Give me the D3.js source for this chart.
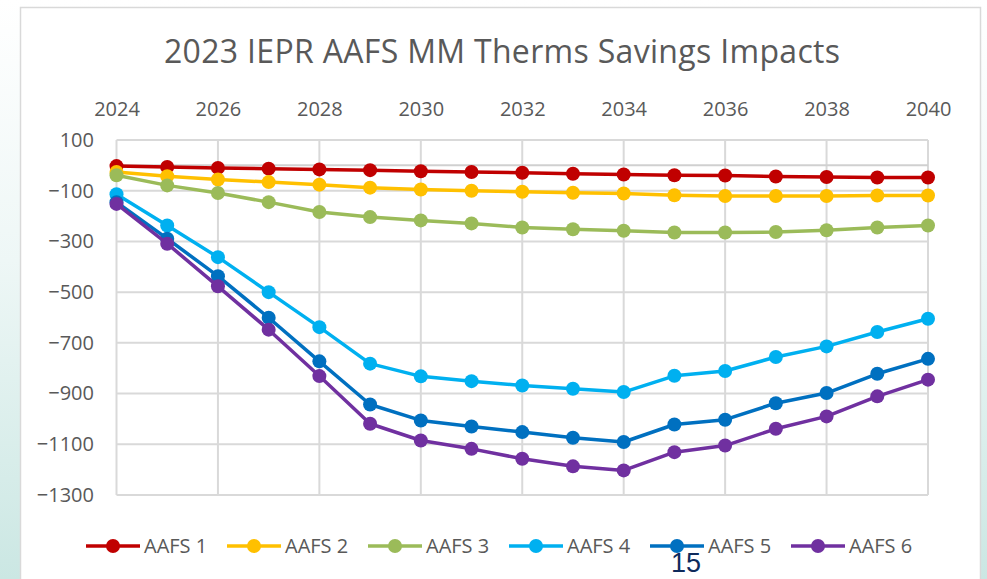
<!DOCTYPE html>
<html>
<head>
<meta charset="utf-8">
<script src="https://cdn.jsdelivr.net/npm/d3@7"></script>
<style>
  body { margin: 0; background: #fff; }
  svg { display: block; }
</style>
</head>
<body>
<script>
const w = 987;
const h = 579;

// data
const years = d3.range(2024, 2041);
const xTicks = [2024, 2026, 2028, 2030, 2032, 2034, 2036, 2038, 2040];
const yTicks = [100, -100, -300, -500, -700, -900, -1100, -1300];
const seriesNames = ['AAFS 1', 'AAFS 2', 'AAFS 3', 'AAFS 4', 'AAFS 5', 'AAFS 6'];
const colors = ['#c00000', '#ffc000', '#9bbb59', '#00b0f0', '#0070c0', '#7030a0'];

const aafs1 = [-3, -6, -10, -13, -16, -19, -23, -26, -29, -33, -36, -39, -40, -44, -46, -48, -48];
const aafs2 = [-26, -43, -56, -66, -76, -88, -95, -100, -104, -108, -111, -118, -121, -121, -121, -119, -119];
const aafs3 = [-39, -79, -109, -145, -184, -204, -217, -229, -245, -252, -258, -265, -265, -263, -256, -245, -237];
const aafs4 = [-114, -237, -362, -500, -638, -782, -832, -851, -868, -881, -894, -830, -811, -756, -714, -657, -605];
const aafs5 = [-145, -289, -437, -601, -773, -943, -1006, -1030, -1052, -1074, -1091, -1022, -1003, -938, -898, -822, -763];
const aafs6 = [-152, -309, -477, -648, -831, -1019, -1085, -1118, -1157, -1187, -1203, -1131, -1105, -1039, -990, -911, -845];
const allSeries = [aafs1, aafs2, aafs3, aafs4, aafs5, aafs6];

const font = 'Open Sans, sans-serif';
const textColor = '#595959';

const svg = d3.select('body')
    .append('svg')
    .attr('width', w)
    .attr('height', h);

// slide background
const defs = svg.append('defs');
const grad = defs.append('linearGradient')
    .attr('id', 'bg')
    .attr('x1', 0).attr('y1', 0).attr('x2', 0).attr('y2', 1);
grad.append('stop').attr('offset', '0').attr('stop-color', '#ffffff');
grad.append('stop').attr('offset', '0.45').attr('stop-color', '#eef7f6');
grad.append('stop').attr('offset', '1').attr('stop-color', '#cbe7e3');
svg.append('rect')
    .attr('width', w)
    .attr('height', h)
    .attr('fill', 'url(#bg)');

// chart box
svg.append('rect')
    .attr('x', 20.5)
    .attr('y', 7.5)
    .attr('width', 960)
    .attr('height', 590)
    .attr('fill', '#fff')
    .attr('stroke', '#d9d9d9')
    .attr('stroke-width', 1.5);

svg.append('text')
    .text('2023 IEPR AAFS MM Therms Savings Impacts')
    .attr('x', 502)
    .attr('y', 63)
    .attr('text-anchor', 'middle')
    .attr('font-family', font)
    .attr('font-size', 32)
    .attr('textLength', 676)
    .attr('fill', textColor);

const xScale = d3.scaleLinear()
    .domain([2024, 2040])
    .range([116.5, 928]);

const yScale = d3.scaleLinear()
    .domain([100, -1300])
    .range([140, 495]);

// horizontal gridlines
svg.append('g')
    .selectAll('line')
    .data(yTicks)
    .enter()
    .append('line')
    .attr('x1', xScale(2024))
    .attr('x2', xScale(2040))
    .attr('y1', (d) => yScale(d))
    .attr('y2', (d) => yScale(d))
    .attr('stroke', '#d9d9d9')
    .attr('stroke-width', 2);

// vertical gridlines
svg.append('g')
    .selectAll('line')
    .data(xTicks)
    .enter()
    .append('line')
    .attr('x1', (d) => xScale(d))
    .attr('x2', (d) => xScale(d))
    .attr('y1', yScale(100))
    .attr('y2', yScale(-1300))
    .attr('stroke', '#d9d9d9')
    .attr('stroke-width', 2);

// category axis crosses at zero
svg.append('line')
    .attr('x1', xScale(2024))
    .attr('x2', xScale(2040))
    .attr('y1', yScale(0))
    .attr('y2', yScale(0))
    .attr('stroke', '#d0d0d0')
    .attr('stroke-width', 2);

const xAxis = d3.axisTop(xScale)
    .tickValues(xTicks)
    .tickFormat(d3.format('d'))
    .tickSize(0)
    .tickPadding(0);
const gx = svg.append('g')
    .attr('transform', 'translate(0, 116)')
    .call(xAxis);
gx.select('.domain').remove();
gx.selectAll('text')
    .attr('font-family', font)
    .attr('font-size', 20)
    .attr('fill', textColor);

const yAxis = d3.axisLeft(yScale)
    .tickValues(yTicks)
    .tickFormat(d3.format('d'))
    .tickSize(0)
    .tickPadding(0);
const gy = svg.append('g')
    .attr('transform', 'translate(94, 0)')
    .call(yAxis);
gy.select('.domain').remove();
gy.selectAll('text')
    .attr('font-family', font)
    .attr('font-size', 20)
    .attr('fill', textColor);

const line = d3.line()
    .x((d, i) => xScale(years[i]))
    .y((d) => yScale(d));

allSeries.forEach((vals, k) => {
    const g = svg.append('g');
    g.append('path')
        .datum(vals)
        .attr('d', line)
        .attr('fill', 'none')
        .attr('stroke', colors[k])
        .attr('stroke-width', 3.5)
        .attr('stroke-linejoin', 'round');
    g.selectAll('circle')
        .data(vals)
        .enter()
        .append('circle')
        .attr('cx', (d, i) => xScale(years[i]))
        .attr('cy', (d) => yScale(d))
        .attr('r', 7)
        .attr('fill', colors[k]);
});

// legend
const legend = svg.append('g')
    .selectAll('g')
    .data(seriesNames)
    .enter()
    .append('g')
    .attr('transform', (d, i) => 'translate(' + (86 + i * 141) + ', 546)');
legend.append('line')
    .attr('x1', 0)
    .attr('x2', 54)
    .attr('stroke', (d, i) => colors[i])
    .attr('stroke-width', 3.5);
legend.append('circle')
    .attr('cx', 27)
    .attr('r', 7)
    .attr('fill', (d, i) => colors[i]);
legend.append('text')
    .text((d) => d)
    .attr('x', 58)
    .attr('y', 7)
    .attr('font-family', font)
    .attr('font-size', 20)
    .attr('fill', textColor);

// slide number
svg.append('text')
    .text('15')
    .attr('x', 686)
    .attr('y', 572)
    .attr('text-anchor', 'middle')
    .attr('font-family', 'Liberation Sans, Arial, sans-serif')
    .attr('font-size', 27)
    .attr('fill', '#0e2a5c');
</script>
</body>
</html>
